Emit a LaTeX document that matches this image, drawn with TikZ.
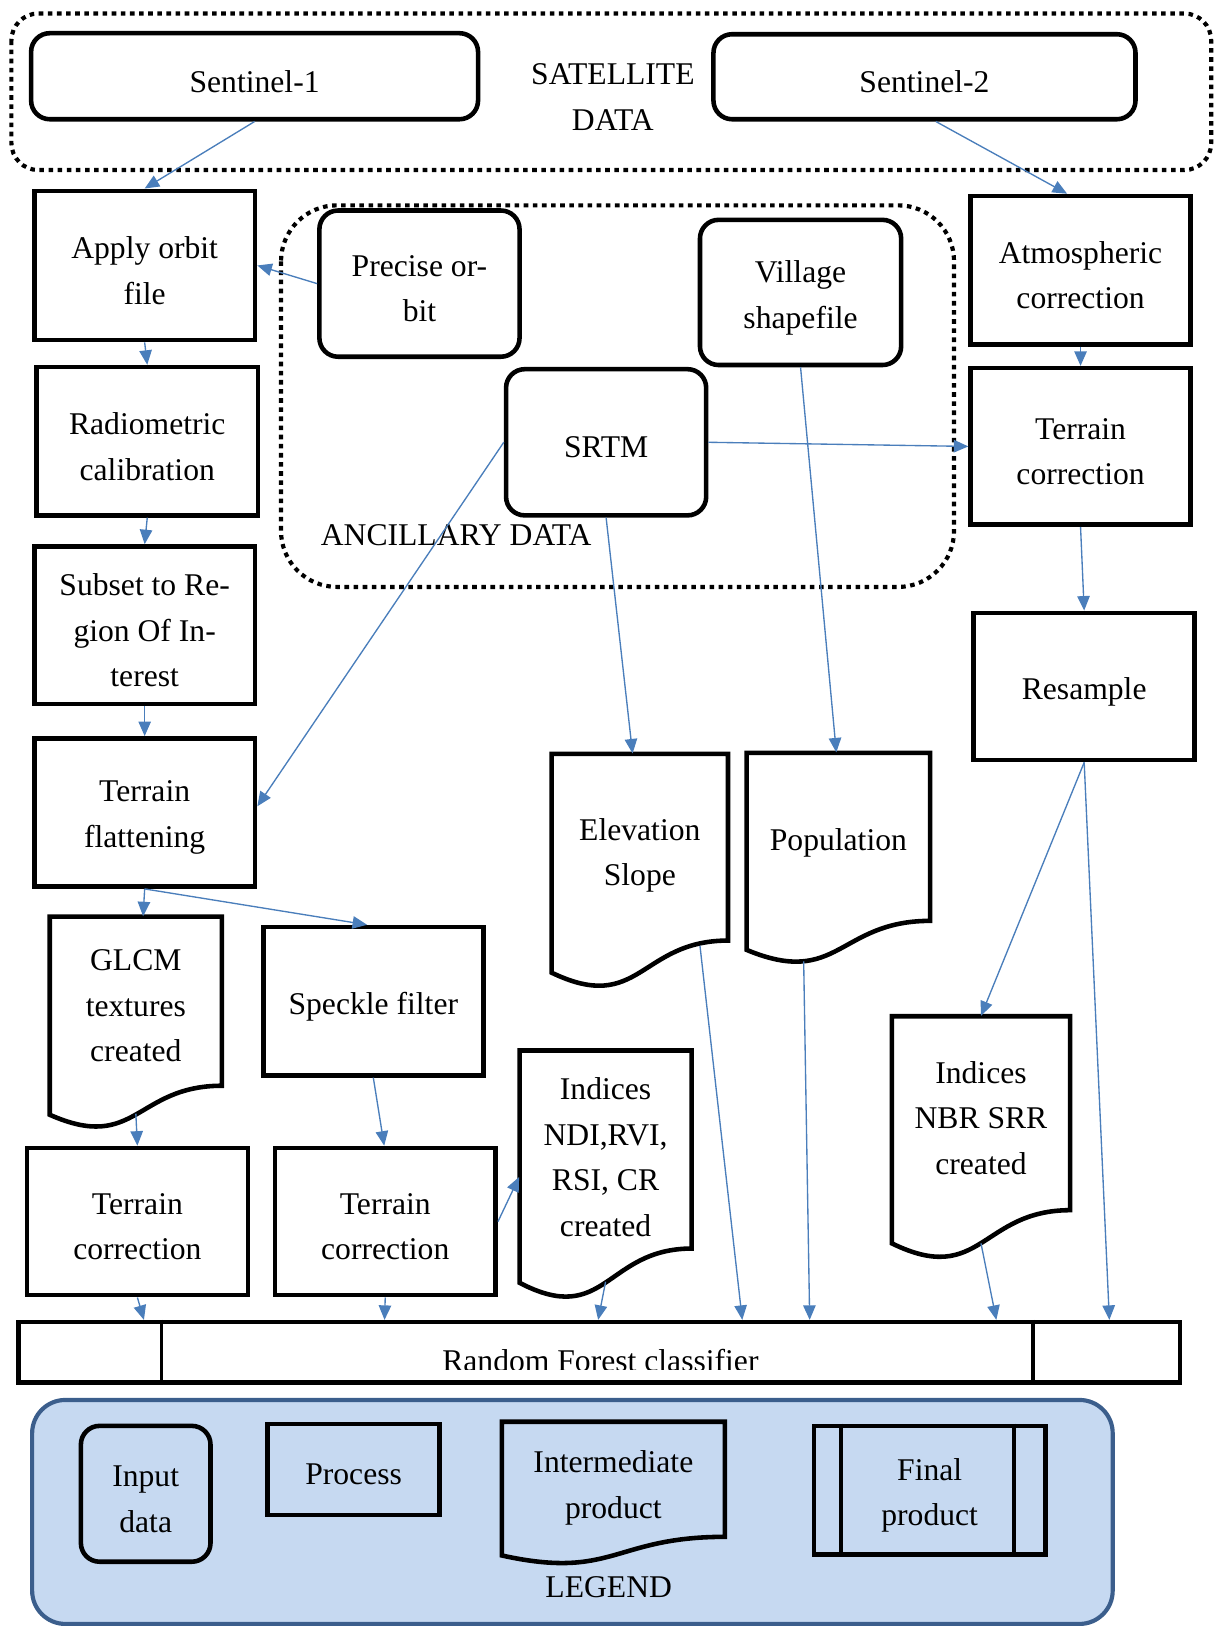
\documentclass[tikz,border=0pt]{standalone}
\usepackage{fontspec}
\setmainfont{Liberation Serif}
\usetikzlibrary{arrows.meta,calc}
\definecolor{arrblue}{HTML}{4A7EBB}
\definecolor{legfill}{HTML}{C6D9F1}
\definecolor{legline}{HTML}{3B5E8C}
\tikzset{
 boxline/.style={draw=black, line width=2.2pt},
 procbox/.style={boxline, rectangle, inner sep=0pt},
 inbox/.style={boxline, rectangle, rounded corners=9pt, inner sep=0pt},
 plainbox/.style={rectangle, align=center, inner sep=0pt},
 docline/.style={draw=black, line width=2.2pt},
 dotbox/.style={draw=black, line width=2pt, dash pattern=on 2.2pt off 2.2pt},
 arr/.style={draw=arrblue, line width=0.65pt, -{Triangle[length=7pt,width=6pt]}},
 lbl/.style={align=center, inner sep=0pt},
 legbox/.style={draw=legline, fill=legfill, line width=2pt, rounded corners=16pt},
}
% name, style, x0, y0, x1, y1, text
\newcommand{\mybox}[7]{\node[#2, minimum width={(#5-#3)*0.5pt}, minimum height={(#6-#4)*0.5pt}] (#1) at ({(#3+#5)/2},{(#4+#6)/2}) {};
 \node[lbl] (#1-t) at ($(#1.center)+(0,5)$) {#7};}
% x0, top, x1, yR, yL
\newcommand{\mydocshape}[5]{\draw[docline] (#1,#2) -- (#3,#2) -- (#3,#4) .. controls ({(#1+#3)/2},#4) and ({(#1+#3)/2},{#4+2.316*(#5-#4)}) .. (#1,#5) -- cycle;}
% name, x0, top, x1, yR, yL, textY, text
\newcommand{\mydoc}[8]{\mydocshape{#2}{#3}{#4}{#5}{#6}\node[plainbox, minimum width={(#4-#2)*0.5pt}, minimum height={(#7-#3)*1pt}] (#1) at ({(#2+#4)/2},#7) {#8};}
\begin{document}
\begin{tikzpicture}[x=0.5pt, y=-0.5pt, font=\fontsize{15.25pt}{22pt}\selectfont]
\useasboundingbox (0,0) rectangle (1172,1568);
\clip (0,0) rectangle (1172,1568);
% group frames
\draw[dotbox, rounded corners=13pt] (11,13) rectangle (1168,164);
\draw[dotbox, rounded corners=27pt] (271,198) rectangle (920,566);
\draw[legbox] (31,1350) rectangle (1073,1566);

% satellite data
\mybox{s1}{inbox}{30}{32}{461}{115}{Sentinel-1}
\mybox{s2}{inbox}{688}{33}{1095}{115}{Sentinel-2}
\node[lbl] (satlbl) at (591,93.5) {SATELLITE\\DATA};

% Sentinel-1 chain
\mybox{apply}{procbox}{33}{184}{246}{328}{Apply orbit\\file}
\mybox{radio}{procbox}{35}{354}{249}{497}{Radiometric\\calibration}
\mybox{subset}{procbox}{33}{527}{246}{679}{Subset to Re-\\gion Of In-\\terest}
\mybox{flat}{procbox}{33}{712}{246}{855}{Terrain\\flattening}
\mydoc{glcm}{48}{884}{214}{1047}{1075}{970}{GLCM\\textures\\created}
\mybox{speckle}{procbox}{254}{894}{466}{1037}{Speckle filter}
\mybox{tcL}{procbox}{26}{1107}{239}{1249}{Terrain\\correction}
\mybox{tcM}{procbox}{265}{1107}{478}{1249}{Terrain\\correction}
\mydoc{ndi}{501}{1013}{667}{1204}{1237}{1116}{Indices\\NDI,RVI,\\RSI, CR\\created}

% ancillary data
\mybox{precise}{inbox}{308}{203}{501}{344}{Precise or-\\bit}
\mybox{village}{inbox}{675}{212}{869}{352}{Village\\shapefile}
\mybox{srtm}{inbox}{488}{356}{681}{497}{SRTM}
\node[lbl, anchor=west] (anclbl) at (309,516) {ANCILLARY DATA};
\mydoc{elev}{532}{727}{702}{907}{938}{825}{Elevation\\Slope}
\mydoc{pop}{720}{726}{897}{888}{916}{813}{Population}

% Sentinel-2 chain
\mybox{atm}{procbox}{936}{189}{1148}{332}{Atmospheric\\correction}
\mybox{tcR}{procbox}{936}{355}{1148}{506}{Terrain\\correction}
\mybox{resample}{procbox}{939}{591}{1152}{733}{Resample}
\mydoc{nbr}{860}{980}{1032}{1167}{1199}{1078}{Indices\\NBR SRR\\created}

% Random forest
\mybox{rf}{procbox}{18}{1275}{1138}{1333}{}
\draw[line width=1.8pt] ($(rf.north west)+(140,0)$) -- ($(rf.south west)+(140,0)$);
\draw[line width=1.8pt] ($(rf.north west)+(980,0)$) -- ($(rf.south west)+(980,0)$);
\begin{scope}
\clip (22,1278) rectangle (1134,1321);
\node[anchor=base, inner sep=0pt] (rftext) at (579,1323) {Random Forest classifier};
\end{scope}

% legend
\mybox{inL}{inbox}{78}{1375}{203}{1506}{Input\\data}
\mybox{procL}{procbox}{258}{1373}{424}{1461}{Process}
\mydoc{interL}{484}{1371}{699}{1482}{1500}{1435}{Intermediate\\product}
\mybox{finL}{procbox}{785}{1375}{1008}{1499}{Final\\product}
\draw[line width=2pt] ($(finL.north west)+(28,0)$) -- ($(finL.south west)+(28,0)$);
\draw[line width=2pt] ($(finL.north west)+(195,0)$) -- ($(finL.south west)+(195,0)$);
\node[lbl] (leglbl) at (587,1531) {LEGEND};

% connector start points on wavy edges
\coordinate (glcm-out) at (131,1074);
\coordinate (elev-out) at (675,912);
\coordinate (pop-out) at (775,927);
\coordinate (ndi-out) at (584,1236);
\coordinate (nbr-out) at (946,1199);

% connectors
\draw[arr] (s1.south) -- (apply.north);
\draw[arr] ($(s2.south)+(11,0)$) -- ($(atm.north)+(-13,0)$);
\draw[arr] (precise.west) -- (apply.east);
\draw[arr] (apply.south) -- (radio.north);
\draw[arr] (radio.south) -- (subset.north);
\draw[arr] (subset.south) -- (flat.north);
\draw[arr] (srtm.west) -- ($(flat.east)+(0,-6)$);
\draw[arr] (srtm.east) -- (tcR.west);
\draw[arr] (srtm.south) -- ($(elev.north)+(-7,0)$);
\draw[arr] (village.south) -- ($(pop.north)+(-2,0)$);
\draw[arr] (atm.south) -- (tcR.north);
\draw[arr] (tcR.south) -- (resample.north);
\draw[arr] (resample.south) -- (nbr.north);
\draw[arr] (resample.south) -- ($(rf.north west)+(1054,0)$);
\draw[arr] (flat.south) -- ($(glcm.north)+(7,0)$);
\draw[arr] (flat.south) -- ($(speckle.north)+(-6,0)$);
\draw[arr] (glcm-out) -- (tcL.north);
\draw[arr] (speckle.south) -- ($(tcM.north)+(-1,0)$);
\draw[arr] (tcM.east) -- ($(ndi.west)+(0,19)$);
\draw[arr] (elev-out) -- ($(rf.north west)+(700,0)$);
\draw[arr] (pop-out) -- ($(rf.north west)+(765,0)$);
\draw[arr] (ndi-out) -- ($(rf.north west)+(561,0)$);
\draw[arr] (nbr-out) -- ($(rf.north west)+(945,0)$);
\draw[arr] (tcL.south) -- ($(rf.north west)+(123,0)$);
\draw[arr] (tcM.south) -- ($(rf.north west)+(355,0)$);
\end{tikzpicture}
\end{document}
